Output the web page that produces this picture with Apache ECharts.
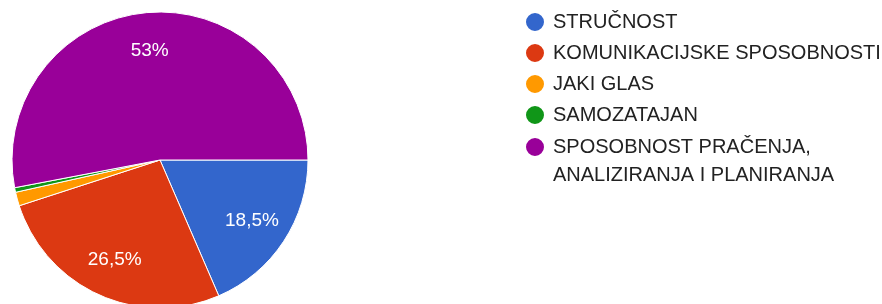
<!DOCTYPE html>
<html>
<head>
<meta charset="utf-8">
<script src="https://cdn.jsdelivr.net/npm/echarts@6/dist/echarts.min.js"></script>
<style>
  html, body { margin: 0; padding: 0; background: #fff; }
  #chart { width: 882px; height: 304px; }
</style>
</head>
<body>
<div id="chart"></div>
<script>
var categories = [
  "STRUČNOST",
  "KOMUNIKACIJSKE SPOSOBNOSTI",
  "JAKI GLAS",
  "SAMOZATAJAN",
  "SPOSOBNOST PRAČENJA,\nANALIZIRANJA I PLANIRANJA"
];
var shares = [18.5, 26.5, 1.5, 0.5, 53];
var colors = ["#3366cc", "#dc3912", "#ff9900", "#109618", "#990099"];

var pieData = categories.map(function (name, i) {
  return { name: name, value: shares[i], itemStyle: { color: colors[i] } };
});

function pctLabel(p) {
  if (p.percent < 5) return "";
  return String(p.value).replace(".", ",") + "%";
}

var myChart = echarts.init(document.getElementById("chart"));
var font = "Arial, 'Liberation Sans', sans-serif";
var legendText = { fontFamily: font, fontSize: 20, color: "#222", lineHeight: 28 };

myChart.setOption({
  animation: false,
  legend: [
    {
      orient: "vertical",
      left: 524,
      top: 8,
      padding: 0,
      itemWidth: 26,
      itemHeight: 20,
      itemGap: 3,
      icon: "circle",
      selectedMode: false,
      data: categories.slice(0, 4),
      textStyle: legendText
    },
    {
      // two-line entry: empty first line keeps the dot level with the first text line
      orient: "vertical",
      left: 524,
      top: 105,
      padding: 0,
      itemWidth: 26,
      itemHeight: 20,
      icon: "circle",
      selectedMode: false,
      data: [categories[4]],
      formatter: function (name) { return "\n" + name; },
      textStyle: legendText
    }
  ],
  series: [
    {
      type: "pie",
      center: [160, 160],
      radius: 148,
      startAngle: 0,
      clockwise: true,
      silent: true,
      itemStyle: { borderColor: "#fff", borderWidth: 1 },
      label: { show: false },
      labelLine: { show: false },
      data: pieData
    },
    {
      // invisible copy, only used to place the percentage labels further out
      type: "pie",
      center: [160, 160],
      radius: 214,
      startAngle: 0,
      clockwise: true,
      silent: true,
      itemStyle: { color: "rgba(0,0,0,0)", borderWidth: 0 },
      label: {
        show: true,
        position: "inside",
        formatter: pctLabel,
        color: "#fff",
        fontFamily: font,
        fontSize: 19
      },
      labelLine: { show: false },
      data: pieData.map(function (d) { return { name: d.name, value: d.value }; })
    }
  ]
});
</script>
</body>
</html>
